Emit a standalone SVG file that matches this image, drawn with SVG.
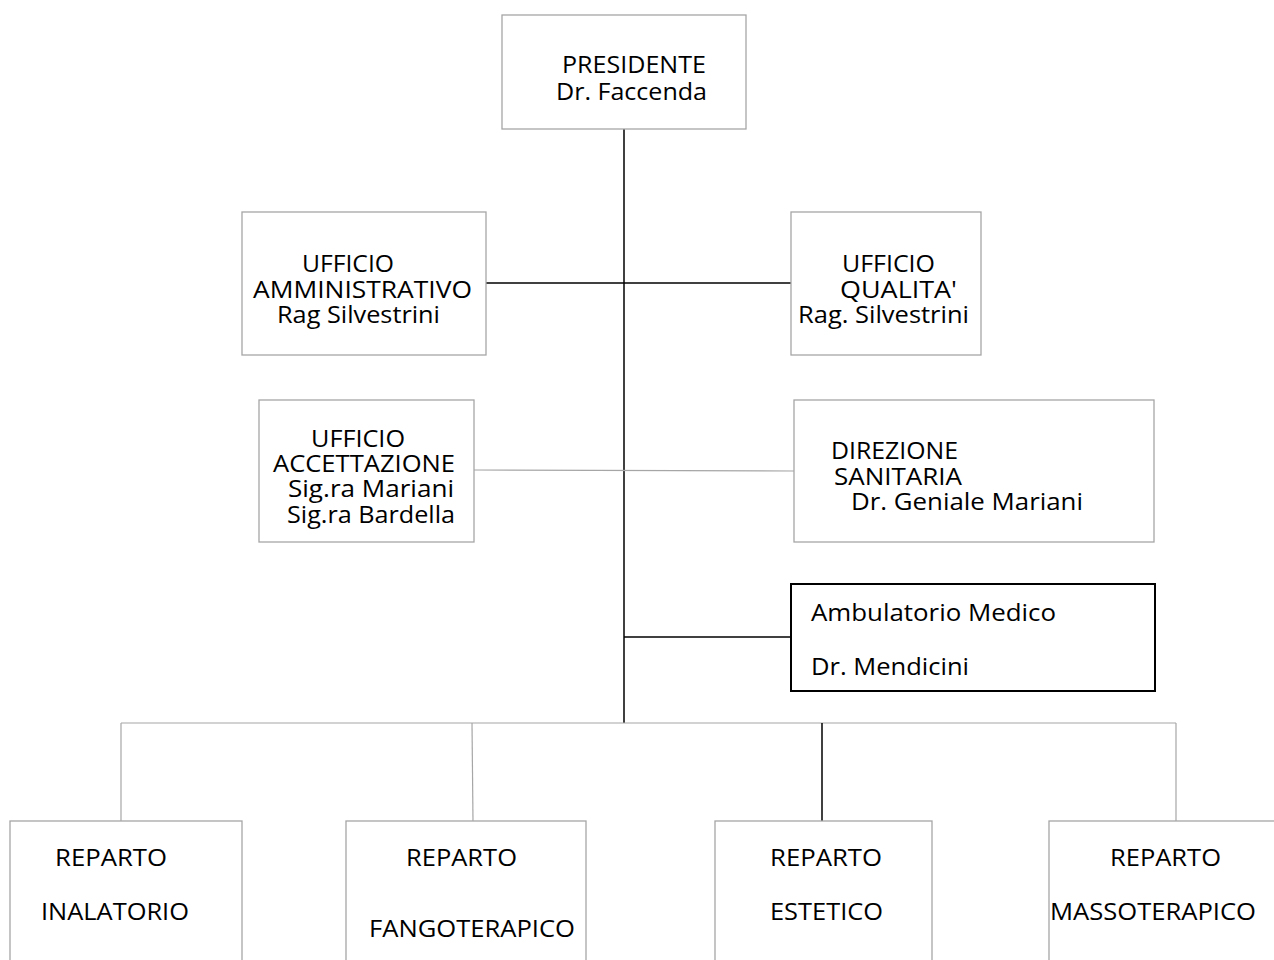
<svg xmlns="http://www.w3.org/2000/svg" width="1274" height="960" viewBox="0 0 1274 960">
<style>
.box{fill:#fff;stroke:#a6a6a6;stroke-width:1.3}
.bbox{fill:#fff;stroke:#000;stroke-width:2}
.t{font-family:"Open Sans","DejaVu Sans",sans-serif;font-size:23px;fill:#000}
.n{font-family:"Open Sans","DejaVu Sans",sans-serif;font-size:24px;fill:#000}
.k{stroke:#000;stroke-width:1.5;fill:none}
.g{stroke:#a6a6a6;stroke-width:1.2;fill:none}
</style>
<rect width="1274" height="960" fill="#fff"/>
<g id="connectors">
<line class="k" x1="624" y1="129" x2="624" y2="723"/>
<line class="k" x1="486" y1="283" x2="791" y2="283"/>
<line class="g" x1="474" y1="470" x2="794" y2="471"/>
<line class="k" x1="624" y1="637" x2="791" y2="637"/>
<line class="g" x1="121" y1="723" x2="1176" y2="723"/>
<line class="g" x1="121" y1="723" x2="121" y2="821"/>
<line class="g" x1="472" y1="723" x2="473" y2="821"/>
<line class="k" x1="822" y1="723" x2="822" y2="821"/>
<line class="g" x1="1176" y1="723" x2="1176" y2="821"/>
</g>
<g id="presidente">
<rect class="box" x="502" y="15" width="244" height="114"/>
<text class="t" x="562" y="73" textLength="144" lengthAdjust="spacingAndGlyphs">PRESIDENTE</text>
<text class="t" x="556" y="100" textLength="151" lengthAdjust="spacingAndGlyphs">Dr. Faccenda</text>
</g>
<g id="amministrativo">
<rect class="box" x="242" y="212" width="244" height="143"/>
<text class="t" x="302" y="272" textLength="92" lengthAdjust="spacingAndGlyphs">UFFICIO</text>
<text class="t" x="253" y="298" textLength="219" lengthAdjust="spacingAndGlyphs">AMMINISTRATIVO</text>
<text class="t" x="277" y="323" textLength="163" lengthAdjust="spacingAndGlyphs">Rag Silvestrini</text>
</g>
<g id="qualita">
<rect class="box" x="791" y="212" width="190" height="143"/>
<text class="t" x="842" y="272" textLength="93" lengthAdjust="spacingAndGlyphs">UFFICIO</text>
<text class="t" x="840" y="298" textLength="117" lengthAdjust="spacingAndGlyphs">QUALITA'</text>
<text class="t" x="798" y="323" textLength="171" lengthAdjust="spacingAndGlyphs">Rag. Silvestrini</text>
</g>
<g id="accettazione">
<rect class="box" x="259" y="400" width="215" height="142"/>
<text class="t" x="311" y="447" textLength="94" lengthAdjust="spacingAndGlyphs">UFFICIO</text>
<text class="t" x="273" y="472" textLength="182" lengthAdjust="spacingAndGlyphs">ACCETTAZIONE</text>
<text class="t" x="288" y="497" textLength="166" lengthAdjust="spacingAndGlyphs">Sig.ra Mariani</text>
<text class="t" x="287" y="523" textLength="168" lengthAdjust="spacingAndGlyphs">Sig.ra Bardella</text>
</g>
<g id="direzione">
<rect class="box" x="794" y="400" width="360" height="142"/>
<text class="t" x="831" y="459" textLength="127" lengthAdjust="spacingAndGlyphs">DIREZIONE</text>
<text class="t" x="834" y="485" textLength="128" lengthAdjust="spacingAndGlyphs">SANITARIA</text>
<text class="t" x="851" y="510" textLength="232" lengthAdjust="spacingAndGlyphs">Dr. Geniale Mariani</text>
</g>
<g id="ambulatorio">
<rect class="bbox" x="791" y="584" width="364" height="107"/>
<text class="t" x="811" y="621" textLength="245" lengthAdjust="spacingAndGlyphs">Ambulatorio Medico</text>
<text class="t" x="811" y="675" textLength="158" lengthAdjust="spacingAndGlyphs">Dr. Mendicini</text>
</g>
<g id="inalatorio">
<rect class="box" x="10" y="821" width="232" height="150"/>
<text class="n" x="55" y="866" textLength="112" lengthAdjust="spacingAndGlyphs">REPARTO</text>
<text class="n" x="41" y="920" textLength="148" lengthAdjust="spacingAndGlyphs">INALATORIO</text>
</g>
<g id="fangoterapico">
<rect class="box" x="346" y="821" width="240" height="150"/>
<text class="n" x="406" y="866" textLength="111" lengthAdjust="spacingAndGlyphs">REPARTO</text>
<text class="n" x="369" y="937" textLength="206" lengthAdjust="spacingAndGlyphs">FANGOTERAPICO</text>
</g>
<g id="estetico">
<rect class="box" x="715" y="821" width="217" height="150"/>
<text class="n" x="770" y="866" textLength="112" lengthAdjust="spacingAndGlyphs">REPARTO</text>
<text class="n" x="770" y="920" textLength="113" lengthAdjust="spacingAndGlyphs">ESTETICO</text>
</g>
<g id="massoterapico">
<rect class="box" x="1049" y="821" width="240" height="150"/>
<text class="n" x="1110" y="866" textLength="111" lengthAdjust="spacingAndGlyphs">REPARTO</text>
<text class="n" x="1050" y="920" textLength="206" lengthAdjust="spacingAndGlyphs">MASSOTERAPICO</text>
</g>
</svg>
